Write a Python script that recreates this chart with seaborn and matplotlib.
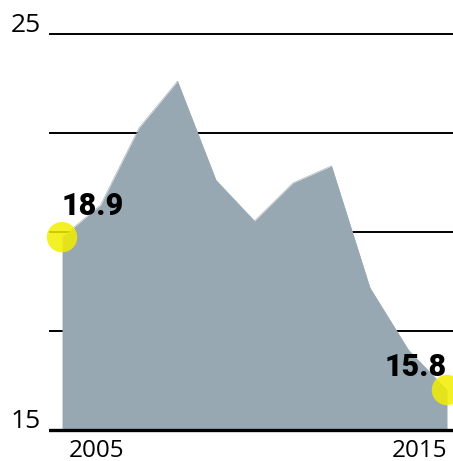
import matplotlib
matplotlib.use("Agg")
import matplotlib.pyplot as plt
import matplotlib.transforms as mtransforms
import seaborn as sns
import pandas as pd

# values
years = [2005, 2006, 2007, 2008, 2009, 2010, 2011, 2012, 2013, 2014, 2015]
values = [19.87, 20.68, 22.63, 23.81, 21.31, 20.28, 21.24, 21.67, 18.59, 17.02, 16.01]
end_labels = ["18.9", "15.8"]
grid_levels = [15, 17.5, 20, 22.5, 25]
ytick_vals = [15, 25]
ytick_labels = ["15", "25"]
xtick_vals = [2005, 2015]
xtick_labels = ["2005", "2015"]

df = pd.DataFrame({"year": years, "value": values})

sns.set_theme(style="white")
plt.rcParams['font.family'] = ['Open Sans', 'DejaVu Sans']

fig = plt.figure(figsize=(4.53, 4.61), dpi=100)
ax = fig.add_axes([0.1082, 0.0501, 0.8918, 0.8933])

area_col = "#98a8b2"

# grid lines behind the area
for g in grid_levels[1:]:
    ax.axhline(g, color="black", lw=1.4, zorder=1)
ax.axhline(15, color="black", lw=2.4, zorder=4)

ax.fill_between(df["year"], 15, df["value"], color=area_col, lw=0, zorder=2)
sns.lineplot(data=df, x="year", y="value", color=area_col, lw=0.4, ax=ax, zorder=2)

ends = df.iloc[[0, -1]]
sns.scatterplot(data=ends, x="year", y="value", s=480, color="#f2ee00", alpha=0.85,
                edgecolor="none", ax=ax, zorder=5, clip_on=False)

ax.annotate(end_labels[0], (years[0], values[0]), xytext=(0, 16), textcoords="offset points",
            ha="left", va="baseline", fontsize=22, fontweight="heavy", family=["Roboto", "DejaVu Sans"],
            color="black", zorder=6)
ax.annotate(end_labels[1], (years[-1], values[-1]), xytext=(0, 10), textcoords="offset points",
            ha="right", va="baseline", fontsize=22, fontweight="heavy", family=["Roboto", "DejaVu Sans"],
            color="black", zorder=6)

ax.set_xlim(2004.662, 2015.156)
ax.set_ylim(14.8, 25.2)

ax.set_yticks(ytick_vals)
ax.set_yticklabels(ytick_labels, fontsize=19, color="black")
ax.set_xticks(xtick_vals)
ax.set_xticklabels(xtick_labels, fontsize=17.5, color="black")
ax.tick_params(axis="y", length=0, pad=6)
ax.tick_params(axis="x", length=0, pad=0.5)

for lab in ax.get_yticklabels():
    lab.set_va("baseline")
    lab.set_transform(lab.get_transform() + mtransforms.ScaledTranslation(0, 1.5 / 72, fig.dpi_scale_trans))

xl = ax.get_xticklabels()
xl[0].set_ha("left")
xl[0].set_transform(xl[0].get_transform() + mtransforms.ScaledTranslation(4.5 / 72, 0, fig.dpi_scale_trans))
xl[1].set_ha("right")

ax.set_xlabel("")
ax.set_ylabel("")
for s in ax.spines.values():
    s.set_visible(False)

fig.savefig("out.png", dpi=100)
